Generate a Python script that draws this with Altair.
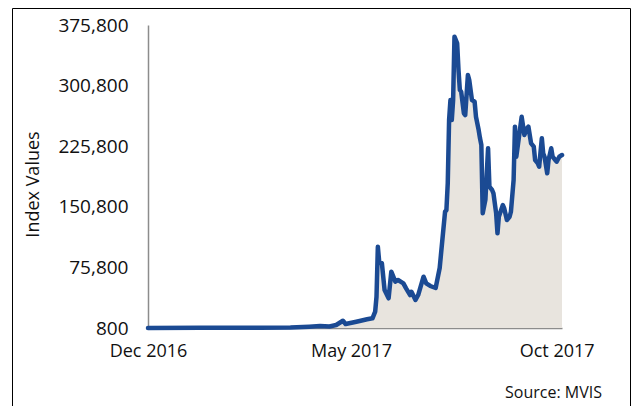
import altair as alt
import pandas as pd

dates = [
    "2016-12-01", "2017-01-09", "2017-02-22", "2017-03-17", "2017-03-31",
    "2017-04-08", "2017-04-15", "2017-04-20", "2017-04-25", "2017-04-27",
    "2017-05-05", "2017-05-13", "2017-05-17", "2017-05-19", "2017-05-20",
    "2017-05-21", "2017-05-22", "2017-05-24", "2017-05-26", "2017-05-29",
    "2017-05-31", "2017-06-03", "2017-06-05", "2017-06-09", "2017-06-11",
    "2017-06-14", "2017-06-15", "2017-06-18", "2017-06-20", "2017-06-24",
    "2017-06-26", "2017-06-29", "2017-07-03", "2017-07-06", "2017-07-10",
    "2017-07-11", "2017-07-12", "2017-07-13", "2017-07-14", "2017-07-15",
    "2017-07-16", "2017-07-17", "2017-07-19", "2017-07-20", "2017-07-21",
    "2017-07-22", "2017-07-24", "2017-07-25", "2017-07-27", "2017-07-28",
    "2017-07-30", "2017-08-01", "2017-08-02", "2017-08-04", "2017-08-05",
    "2017-08-06", "2017-08-07", "2017-08-09", "2017-08-11", "2017-08-12",
    "2017-08-14", "2017-08-15", "2017-08-17", "2017-08-18", "2017-08-19",
    "2017-08-22", "2017-08-23", "2017-08-25", "2017-08-27", "2017-08-28",
    "2017-08-30", "2017-08-31", "2017-09-01", "2017-09-02", "2017-09-05",
    "2017-09-07", "2017-09-09", "2017-09-10", "2017-09-12", "2017-09-14",
    "2017-09-15", "2017-09-17", "2017-09-18", "2017-09-20", "2017-09-21",
    "2017-09-22", "2017-09-24", "2017-09-25", "2017-09-27", "2017-09-28",
    "2017-09-30", "2017-10-01", "2017-10-03", "2017-10-05",
]

values = [
    900, 1000, 1200, 1300, 2400,
    3300, 2600, 4500, 9800, 5700,
    8600, 11600, 12800, 21000, 39500,
    101400, 82900, 80900, 47800, 37500,
    70500, 58100, 60200, 56100, 49900,
    41600, 45700, 35500, 41600, 64300,
    56100, 52800, 50300, 75100, 144700,
    146800, 179900, 258200, 282900, 258200,
    282900, 361300, 353100, 320100, 295400,
    293200, 266500, 264400, 313900, 307700,
    283000, 280900, 262300, 245800, 235600,
    227300, 142800, 159400, 223200, 175700,
    171600, 167500, 142800, 118000, 138500,
    153000, 148900, 134500, 138500, 144700,
    184000, 250000, 212800, 225200, 262300,
    239700, 248000, 250000, 229400, 225200,
    208700, 204600, 200400, 235600, 217000,
    212800, 192300, 208700, 223200, 212800,
    208700, 206600, 212800, 214900,
]

y_ticks = [800, 75800, 150800, 225800, 300800, 375800]
x_tick_dates = [
    alt.DateTime(year=2016, month=12, date=1),
    alt.DateTime(year=2017, month=5, date=1),
    alt.DateTime(year=2017, month=10, date=1),
]
x_domain = [
    alt.DateTime(year=2016, month=12, date=1),
    alt.DateTime(year=2017, month=10, date=5),
]

df = pd.DataFrame({"date": dates, "value": values})

FONT = "Open Sans"
LINE_COLOR = "#1B4A93"
FILL_COLOR = "#E8E4DE"
AXIS_COLOR = "#8C8C8C"

x_enc = alt.X(
    "date:T",
    scale=alt.Scale(domain=x_domain),
    axis=alt.Axis(
        values=x_tick_dates,
        format="%b %Y",
        ticks=False,
        grid=False,
        domainColor=AXIS_COLOR,
        domainWidth=1.5,
        labelFontSize=18,
        labelFont=FONT,
        labelColor="#111111",
        labelPadding=14,
        labelOverlap=False,
        labelFlush=False,
        title="",
    ),
)

y_enc = alt.Y(
    "value:Q",
    scale=alt.Scale(domain=[800, 375800], nice=False, zero=False),
    axis=alt.Axis(
        values=y_ticks,
        format=",d",
        ticks=False,
        grid=False,
        domainColor=AXIS_COLOR,
        domainWidth=1.5,
        labelFontSize=19,
        labelFont=FONT,
        labelColor="#111111",
        labelPadding=20,
        labelFlush=False,
        labelOverlap=False,
        title="Index Values",
        titleFont=FONT,
        titleFontSize=18,
        titleFontWeight="normal",
        titleColor="#111111",
        titleAngle=270,
        titleX=-115,
        titleY=159,
        titleAlign="center",
        titleBaseline="middle",
    ),
)

base = alt.Chart(df)

area = base.mark_area(color=FILL_COLOR, opacity=1).encode(
    x=x_enc, y=y_enc, y2=alt.datum(800)
)

line = base.mark_line(
    color=LINE_COLOR, strokeWidth=4.5, strokeJoin="round", strokeCap="round"
).encode(x="date:T", y="value:Q")

one = alt.Data(values=[{"k": 1}])

frame = alt.Chart(one).mark_rect(
    fill="transparent", stroke="black", strokeWidth=1
).encode(
    x=alt.value(-135.5), x2=alt.value(482.5), y=alt.value(-16.5), y2=alt.value(420)
)

source = alt.Chart(one).mark_text(
    text="Source: MVIS", font=FONT, fontSize=16, align="right",
    baseline="middle", color="#111111"
).encode(x=alt.value(454), y=alt.value(368))

chart = alt.layer(area, line, frame, source).properties(
    width=414,
    height=303,
    padding={"left": 140, "top": 17, "right": 69, "bottom": 78},
    autosize=alt.AutoSizeParams(type="none"),
    background="white",
).configure_view(stroke=None)

chart.save("out.html", embed_options={"renderer": "svg", "actions": False})
